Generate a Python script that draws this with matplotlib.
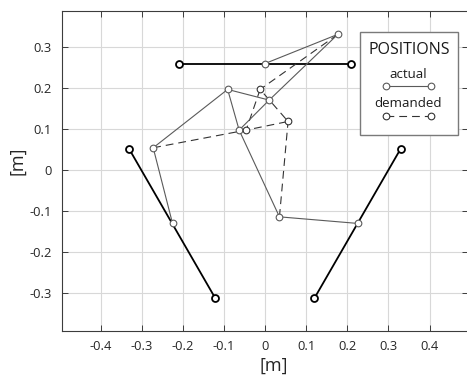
import matplotlib
matplotlib.use("Agg")
import matplotlib.pyplot as plt
from matplotlib.patches import Rectangle
from matplotlib.lines import Line2D

# ---------------- data ----------------
# guide rails (bold black): [x_start, x_end], [y_start, y_end]
rail_top_x = [-0.21, 0.21]
rail_top_y = [0.259, 0.259]
rail_left_x = [-0.331, -0.121]
rail_left_y = [0.052, -0.312]
rail_right_x = [0.330, 0.120]
rail_right_y = [0.052, -0.312]

# slider positions on the rails
slider_x = [0.0, -0.225, 0.225]
slider_y = [0.259, -0.130, -0.130]

# elbow joints (shared by actual and demanded)
elbow_x = [0.177, -0.272, 0.035]
elbow_y = [0.330, 0.054, -0.114]

# actual platform vertices (linked from elbow 0, 1, 2)
actual_x = [0.010, -0.091, -0.063]
actual_y = [0.170, 0.196, 0.097]

# demanded platform vertices (linked from elbow 0, 1, 2)
demand_x = [-0.012, -0.046, 0.056]
demand_y = [0.196, 0.097, 0.118]

xticks = [-0.4, -0.3, -0.2, -0.1, 0, 0.1, 0.2, 0.3, 0.4]
yticks = [-0.3, -0.2, -0.1, 0, 0.1, 0.2, 0.3]
xlim = (-0.4945, 0.4945)
ylim = (-0.391, 0.3875)

# ---------------- style ----------------
FONT = ["Open Sans", "DejaVu Sans"]
plt.rcParams["font.family"] = FONT
W, H = 467, 375
fig = plt.figure(figsize=(W / 100, H / 100), dpi=100)

def fx(px):
    return px / W

def fy(py):
    return 1 - py / H

ax_left, ax_right, ax_top, ax_bot = 61.7, 468.4, 10.7, 330.7
ax = fig.add_axes([fx(ax_left), fy(ax_bot), (ax_right - ax_left) / W, (ax_bot - ax_top) / H])

GRAY = "#5a5a5a"
DASH = "#333333"
SPINE = "#3c3c3c"

ax.set_xlim(*xlim)
ax.set_ylim(*ylim)
ax.set_xticks(xticks)
ax.set_yticks(yticks)
ax.set_xticklabels([("%g" % t) for t in xticks])
ax.set_yticklabels([("%g" % t) for t in yticks])
ax.grid(True, color="#d8d8d8", lw=0.8)
ax.set_axisbelow(True)
ax.tick_params(direction="in", length=4.5, width=0.7, color=SPINE,
               top=True, right=True, labelsize=9.3, labelcolor="#262626", pad=7)
for s in ax.spines.values():
    s.set_color(SPINE)
    s.set_linewidth(0.8)

# rails
for rx, ry in [(rail_top_x, rail_top_y), (rail_left_x, rail_left_y), (rail_right_x, rail_right_y)]:
    ax.plot(rx, ry, color="black", lw=1.3, zorder=3)
    ax.plot(rx, ry, ls="none", marker="o", ms=5, mfc="white", mec="black", mew=1.3, zorder=6)

# demanded (dashed)
dash_kw = dict(color=DASH, lw=0.8, dashes=(7, 4.5), zorder=4)
for i in range(3):
    ax.plot([elbow_x[i], demand_x[i]], [elbow_y[i], demand_y[i]], **dash_kw)
ax.plot(demand_x + [demand_x[0]], demand_y + [demand_y[0]], **dash_kw)

# actual (solid gray)
sol_kw = dict(color=GRAY, lw=0.8, zorder=4)
for i in range(3):
    ax.plot([slider_x[i], elbow_x[i], actual_x[i]], [slider_y[i], elbow_y[i], actual_y[i]], **sol_kw)
ax.plot(actual_x + [actual_x[0]], actual_y + [actual_y[0]], **sol_kw)

mk = dict(ls="none", marker="o", ms=4.8, mfc="white", mec=GRAY, mew=0.8, zorder=7)
ax.plot(slider_x, slider_y, **mk)
ax.plot(elbow_x, elbow_y, **mk)
ax.plot(actual_x, actual_y, **mk)
mkd = dict(mk)
mkd["mec"] = DASH
ax.plot(demand_x, demand_y, **mkd)

# axis labels
ax.set_xlabel("[m]", fontsize=13, color="#262626")
ax.set_ylabel("[m]", fontsize=13, color="#262626")
ax.xaxis.set_label_coords((274 - ax_left) / (ax_right - ax_left), (ax_bot - 366) / (ax_bot - ax_top))
ax.xaxis.label.set_va("center")
ax.yaxis.set_label_coords((17.5 - ax_left) / (ax_right - ax_left), (ax_bot - 161) / (ax_bot - ax_top))
ax.yaxis.label.set_va("center")

# legend box (custom)
bx0, bx1, by0, by1 = 360, 458, 31.7, 135
fig.add_artist(Rectangle((fx(bx0), fy(by1)), (bx1 - bx0) / W, (by1 - by0) / H,
                         transform=fig.transFigure, facecolor="white",
                         edgecolor="#7a7a7a", lw=1.0, zorder=10))
fig.text(fx(409), fy(50), "POSITIONS", ha="center", va="center", fontsize=11.5,
         color="#1a1a1a", zorder=11)
fig.text(fx(408), fy(75), "actual", ha="center", va="center", fontsize=9.5,
         color="#1a1a1a", zorder=11)
fig.text(fx(408), fy(103.5), "demanded", ha="center", va="center", fontsize=9.5,
         color="#1a1a1a", zorder=11)
fig.add_artist(Line2D([fx(386), fx(431)], [fy(86.3), fy(86.3)], transform=fig.transFigure,
                      color=GRAY, lw=0.8, marker="o", ms=4.8, mfc="white", mec=GRAY,
                      mew=0.8, zorder=11))
fig.add_artist(Line2D([fx(386), fx(431)], [fy(115.7), fy(115.7)], transform=fig.transFigure,
                      color=DASH, lw=0.8, dashes=(7, 4.5), marker="o", ms=4.8, mfc="white",
                      mec=DASH, mew=0.8, zorder=11))

fig.savefig("out.png", dpi=100)
